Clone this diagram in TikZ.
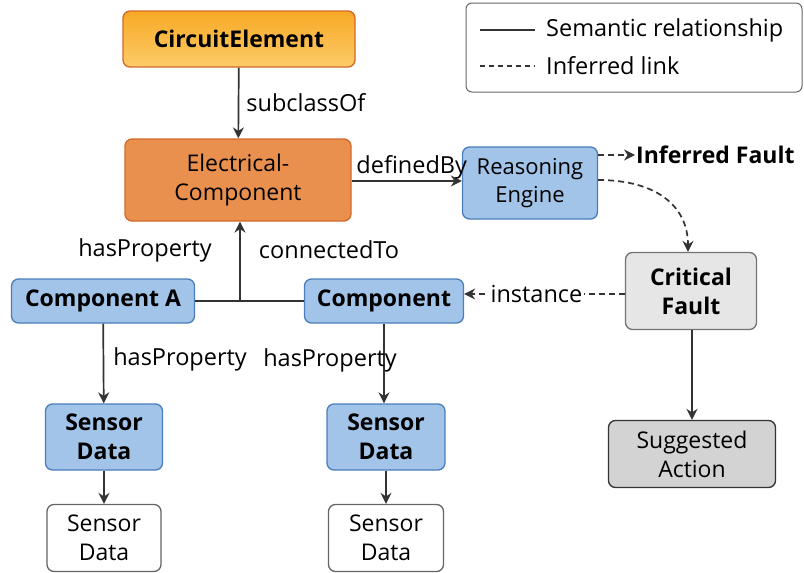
\documentclass[tikz,border=0pt]{standalone}
\usepackage{fontspec}
\setmainfont{Open Sans}
\usetikzlibrary{calc,arrows.meta}
\definecolor{classorange}{HTML}{E9904F}
\definecolor{classborder}{HTML}{D2692A}
\definecolor{topone}{HTML}{F8A925}
\definecolor{toptwo}{HTML}{FCCB68}
\definecolor{compblue}{HTML}{A2C4E8}
\definecolor{compborder}{HTML}{4A7EBB}
\definecolor{faultgray}{HTML}{E6E6E6}
\definecolor{actiongray}{HTML}{D3D3D3}
\definecolor{linegray}{HTML}{333333}
\tikzset{
	% boxes of the ontology: classes, instances, results
	box/.style={rectangle,rounded corners=7pt,draw,line width=1.3pt,align=center,inner sep=0pt,
		font=\fontsize{23}{29}\selectfont},
	class box/.style={box,fill=classorange,draw=classborder},
	top box/.style={box,top color=topone,bottom color=toptwo,draw=classborder,font=\fontsize{23}{29}\selectfont\bfseries},
	comp box/.style={box,fill=compblue,draw=compborder,font=\fontsize{23}{29}\selectfont\bfseries},
	data box/.style={box,fill=white,draw=black!60},
	fault box/.style={box,fill=faultgray,draw=black!55,font=\fontsize{23}{29}\selectfont\bfseries},
	action box/.style={box,fill=actiongray,draw=linegray},
	% two kinds of link, as in the legend
	rel/.style={draw=linegray,line width=1.7pt,-{Stealth[length=11pt,width=11pt]}},
	infer/.style={rel,dash pattern=on 6pt off 4pt},
	lbl/.style={font=\fontsize{23.5}{27}\selectfont,inner sep=1pt}
}
\begin{document}
\begin{tikzpicture}[x=1pt,y=-1pt]
	\useasboundingbox (0,0) rectangle (804,573);
	% legend
	\draw[rounded corners=6pt,line width=1pt,draw=black!60] (466,3) rectangle (802,92);
	\draw[line width=1.6pt,draw=linegray] (480,30) -- (535,30);
	\node[lbl,anchor=west] (legsem) at (545,30) {Semantic relationship};
	\draw[line width=1.5pt,draw=linegray,dash pattern=on 5pt off 4pt] (480,66) -- (535,66);
	\node[lbl,anchor=west] (leginf) at (545,66) {Inferred link};
	
	% class nodes
	\node[top box,minimum width=232,minimum height=56] (circuit) at (239,39) {CircuitElement};
	\node[class box,minimum width=226,minimum height=82] (elec) at (238,180) {Electrical-\\Component};
	\node[comp box,font=\fontsize{22}{28}\selectfont,minimum width=135,minimum height=72] (engine) at (530,183) {Reasoning\\Engine};
	
	% components
	\node[comp box,minimum width=183,minimum height=44] (compa) at (103,301) {Component A};
	\node[comp box,minimum width=159,minimum height=44] (comp) at (384,301) {Component};
	\coordinate (joint) at (240,301);
	
	% sensor data
	\node[comp box,minimum width=117,minimum height=66] (sensa) at (104,437) {Sensor\\Data};
	\node[comp box,minimum width=118,minimum height=66] (sensb) at (386,437) {Sensor\\Data};
	\node[data box,minimum width=114,minimum height=67] (rawa) at (104,538) {Sensor\\Data};
	\node[data box,minimum width=115,minimum height=67] (rawb) at (386,538) {Sensor\\Data};
	
	% faults
	\node[fault box,minimum width=131,minimum height=77] (fault) at (691,291) {Critical\\Fault};
	\node[action box,minimum width=167,minimum height=67] (action) at (692,454) {Suggested\\Action};
	\node[font=\fontsize{23}{27}\selectfont\bfseries,anchor=west,inner sep=1pt] (inferred) at (635,155) {Inferred Fault};
	
	% semantic links
	\draw[rel] (circuit) -- node[lbl,right=6pt] {subclassOf} (elec);
	\draw[rel] (elec.east |- 0,181) -- node[lbl,above=0pt,xshift=5pt] {definedBy} (engine.west |- 0,181);
	\draw[line width=1.7pt,draw=linegray] (compa) -- (comp);
	\draw[rel] (joint) -- (joint |- elec.south);
	\node[lbl] (hasprop) at (145,250) {hasProperty};
	\node[lbl] (connto) at (329,250) {connectedTo};
	\draw[rel] (compa) -- node[lbl,right=8pt,pos=0.45] {hasProperty} (sensa);
	\draw[rel] (comp.south) -- (comp.south |- sensb.north);
	\node[lbl] (hasprop2) at (330,360) {hasProperty};
	\draw[rel] (sensa) -- (rawa);
	\draw[rel] (sensb.south) -- (sensb.south |- rawb.north);
	\draw[rel] (fault.south -| action.north) -- (action);
	
	% inferred links
	\draw[infer] (engine.east |- 0,155) -- (inferred);
	\draw[infer] (engine.east |- 0,180) .. controls (655,180) and (688,205) .. (fault.north -| 688,0);
	\draw[infer] (fault.west |- 0,294) -- node[lbl,fill=white,inner sep=2pt,pos=0.55] {instance} (comp.east |- 0,294);
\end{tikzpicture}
\end{document}
